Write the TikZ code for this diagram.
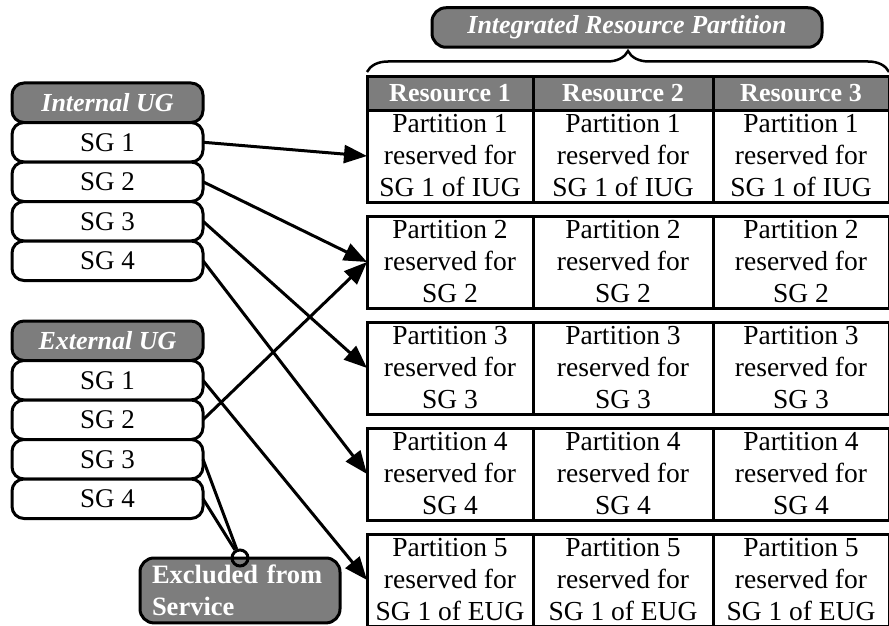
\documentclass[tikz,border=0pt]{standalone}
\usepackage{fontspec}
\setmainfont{Liberation Serif}
\usetikzlibrary{positioning, arrows.meta, decorations.pathreplacing}
\definecolor{boxgray}{RGB}{125,125,125}
\tikzset{
    >={Triangle[length=23pt, width=18pt]}, % big filled arrow heads
    group/.style={draw, line width=3pt, rounded corners=12pt, fill=boxgray, text=white,
        font=\fontsize{26}{32}\selectfont\bfseries\itshape,
        minimum width=191pt, minimum height=39.5pt, inner sep=0pt, outer sep=0pt}, % user group title
    sg/.style={draw, line width=3pt, rounded corners=12pt, fill=white,
        font=\fontsize{27}{32}\selectfont,
        minimum width=191pt, minimum height=39.5pt, inner sep=0pt, outer sep=0pt}, % one service group
    head/.style={draw, line width=3pt, fill=boxgray, text=white,
        font=\fontsize{26}{32}\selectfont\bfseries,
        minimum height=33pt, inner sep=0pt, outer sep=0pt}, % resource column header
    cell/.style={draw, line width=3pt, align=center,
        font=\fontsize{27.5}{32}\selectfont,
        minimum height=92pt, inner sep=0pt, outer sep=0pt}, % one partition of a resource
    colA/.style={minimum width=166pt},
    colB/.style={minimum width=180pt},
    colC/.style={minimum width=176pt},
    link/.style={->, line width=3pt}, % maps a group onto a partition
}

\begin{document}
\begin{tikzpicture}[x=1pt, y=-1pt]
\useasboundingbox (0,0) rectangle (889,626);

% resource table
\node[head, colA, anchor=north west] (h1) at (367,77) {Resource 1};
\node[head, colB, right=0pt of h1] (h2) {Resource 2};
\node[head, colC, right=0pt of h2] (h3) {Resource 3};

\node[cell, colA, below=0pt of h1] (p11) {Partition 1\\reserved for\\SG 1 of IUG};
\node[cell, colB, right=0pt of p11] (p12) {Partition 1\\reserved for\\SG 1 of IUG};
\node[cell, colC, right=0pt of p12] (p13) {Partition 1\\reserved for\\SG 1 of IUG};

\node[cell, colA, below=14pt of p11] (p21) {Partition 2\\reserved for\\SG 2};
\node[cell, colB, right=0pt of p21] (p22) {Partition 2\\reserved for\\SG 2};
\node[cell, colC, right=0pt of p22] (p23) {Partition 2\\reserved for\\SG 2};

\node[cell, colA, below=14pt of p21] (p31) {Partition 3\\reserved for\\SG 3};
\node[cell, colB, right=0pt of p31] (p32) {Partition 3\\reserved for\\SG 3};
\node[cell, colC, right=0pt of p32] (p33) {Partition 3\\reserved for\\SG 3};

\node[cell, colA, below=14pt of p31] (p41) {Partition 4\\reserved for\\SG 4};
\node[cell, colB, right=0pt of p41] (p42) {Partition 4\\reserved for\\SG 4};
\node[cell, colC, right=0pt of p42] (p43) {Partition 4\\reserved for\\SG 4};

\node[cell, colA, below=14pt of p41] (p51) {Partition 5\\reserved for\\SG 1 of EUG};
\node[cell, colB, right=0pt of p51] (p52) {Partition 5\\reserved for\\SG 1 of EUG};
\node[cell, colC, right=0pt of p52] (p53) {Partition 5\\reserved for\\SG 1 of EUG};

% title and brace over the whole table
\node[group, minimum width=390pt, rounded corners=14pt] (irp) at (627,27.5) {Integrated Resource Partition};
\draw[line width=2.5pt, decorate, decoration={brace, amplitude=21pt}]
    ([yshift=5pt]h1.north west) -- ([yshift=5pt]h3.north east);

% internal user group
\node[group, anchor=north] (iug) at (107.5,83) {Internal UG};
\node[sg, below=0pt of iug] (i1) {SG 1};
\node[sg, below=0pt of i1] (i2) {SG 2};
\node[sg, below=0pt of i2] (i3) {SG 3};
\node[sg, below=0pt of i3] (i4) {SG 4};

% external user group
\node[group, anchor=north] (eug) at (107.5,321) {External UG};
\node[sg, below=0pt of eug] (e1) {SG 1};
\node[sg, below=0pt of e1] (e2) {SG 2};
\node[sg, below=0pt of e2] (e3) {SG 3};
\node[sg, below=0pt of e3] (e4) {SG 4};

% groups left out
\node[group, font=\fontsize{26.5}{32}\selectfont\bfseries, align=left, anchor=north west,
    minimum width=200pt, rounded corners=14pt, inner xsep=12pt, inner ysep=7pt,
    text width=176pt] (excl) at (140,558) {Excluded from\\Service};
\node[circle, draw, line width=3pt, minimum size=16pt, inner sep=0pt] (join) at (excl.north) {};
\draw[line width=3pt] (e3.east) -- (join);
\draw[line width=3pt] (e4.east) -- (join);

% mapping
\draw[link] (i1.east) -- (p11.west);
\draw[link] (i2.east) -- (p21.west);
\draw[link] (i3.east) -- (p31.west);
\draw[link] (i4.east) -- (p41.west);
\draw[link] (e1.east) -- (p51.west);
\draw[link] (e2.east) -- (p21.west);
\end{tikzpicture}
\end{document}
